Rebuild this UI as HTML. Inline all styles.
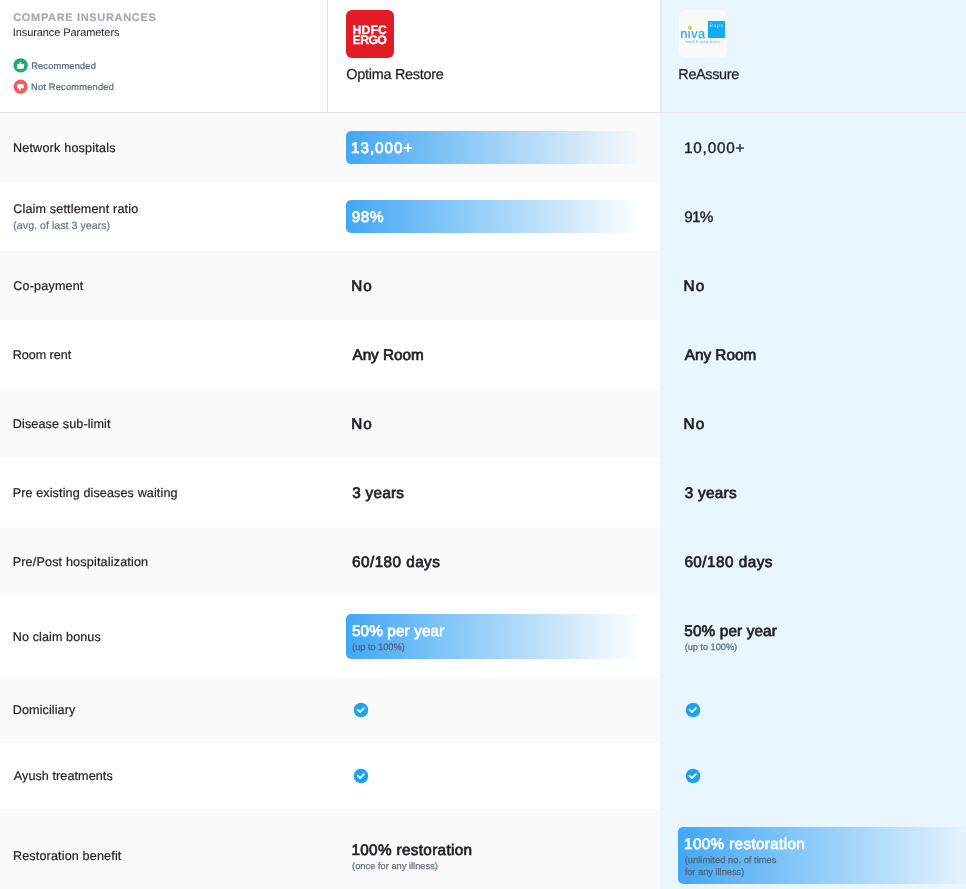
<!DOCTYPE html>
<html><head><meta charset="utf-8">
<title>Compare Insurances</title>
<style>
*{box-sizing:border-box;margin:0;padding:0}
html,body{width:966px;height:889px;overflow:hidden;background:#fff;font-family:"Liberation Sans",sans-serif;color:#1f1f1f;text-rendering:geometricPrecision}
.wrap{position:relative;width:966px;height:889px;overflow:hidden}
.col3{position:absolute;left:660px;top:0;width:306px;height:889px;background:#e9f5ff}
.hl{position:absolute;left:0;top:112px;width:966px;height:1px;background:#e4e4e7}
.v1{position:absolute;left:327px;top:0;width:1px;height:112px;background:#e4e4e7}
.v2{position:absolute;left:660px;top:0;width:1px;height:112px;background:#e1e2e6}
.row{position:absolute;left:0;width:660px;background:#fafafa}
.bar{position:absolute;border-radius:5px;background:linear-gradient(90deg,#41a7f5 0%,rgba(65,167,245,0) 100%)}
.t{position:absolute;white-space:nowrap}
.tx{position:absolute;left:0;top:0;width:966px;height:889px;will-change:transform}
svg{position:absolute;overflow:visible}
</style></head><body><div class="wrap">
<div class="col3"></div>
<div class="row" style="top:113px;height:69px"></div>
<div class="row" style="top:251px;height:69px"></div>
<div class="row" style="top:389px;height:69px"></div>
<div class="row" style="top:527px;height:69px"></div>
<div class="row" style="top:677px;height:66px"></div>
<div class="row" style="top:809px;height:92px"></div>
<div class="hl"></div><div class="v1"></div><div class="v2"></div>
<!-- legend icons -->
<svg style="left:13px;top:58px" width="15" height="15" viewBox="13 58 15 15"><circle cx="20.6" cy="65.4" r="7.15" fill="#1cae6c"/><path d="M17.2 64h1.9l.8-1.6c.6-.5 1.6-.1 1.5.8l-.1.8h2.1c.6 0 .9.4.8 1l-.4 3c-.1.5-.4.8-.9.8h-5.7z" fill="#fff"/></svg>
<svg style="left:13px;top:79px" width="15" height="15" viewBox="13 79 15 15"><circle cx="20.6" cy="86.7" r="7.15" fill="#ee5b64"/><path d="M17.2 88.2h1.4l.6 2.4c.4.5 1.1.2 1.2-.4l.5-2h2.3c.6 0 .9-.4.8-1l-.4-2.3c-.1-.5-.4-.8-.9-.8h-5.5z" fill="#fff"/></svg>
<!-- logos -->
<div style="position:absolute;left:346px;top:10px;width:48px;height:48px;border-radius:6px;background:#e11b25"></div>
<div style="position:absolute;left:679px;top:10px;width:48px;height:48px;border-radius:6px;background:#fafafa"></div>
<div style="position:absolute;left:707.8px;top:20.9px;width:17px;height:16.8px;background:#0eaeee"></div>
<!-- bars -->
<div class="bar" style="left:346px;top:131px;width:296px;height:33px"></div>
<div class="bar" style="left:346px;top:200px;width:296px;height:33px"></div>
<div class="bar" style="left:346px;top:614px;width:296px;height:45px"></div>
<div class="bar" style="left:678px;top:827px;width:296px;height:57px"></div>
<!-- checks -->
<svg style="left:353.05px;top:701.85px" width="16" height="16" viewBox="-8 -8 16 16"><circle cx="0" cy="0" r="7.25" fill="#1da1f2"/><path d="M-3.4-.3l2.4 2.4 3.9-3.9" fill="none" stroke="#fff" stroke-width="1.8" stroke-linecap="round" stroke-linejoin="round"/></svg>
<svg style="left:353.05px;top:767.85px" width="16" height="16" viewBox="-8 -8 16 16"><circle cx="0" cy="0" r="7.25" fill="#1da1f2"/><path d="M-3.4-.3l2.4 2.4 3.9-3.9" fill="none" stroke="#fff" stroke-width="1.8" stroke-linecap="round" stroke-linejoin="round"/></svg>
<svg style="left:685.05px;top:701.85px" width="16" height="16" viewBox="-8 -8 16 16"><circle cx="0" cy="0" r="7.25" fill="#1da1f2"/><path d="M-3.4-.3l2.4 2.4 3.9-3.9" fill="none" stroke="#fff" stroke-width="1.8" stroke-linecap="round" stroke-linejoin="round"/></svg>
<svg style="left:685.05px;top:767.85px" width="16" height="16" viewBox="-8 -8 16 16"><circle cx="0" cy="0" r="7.25" fill="#1da1f2"/><path d="M-3.4-.3l2.4 2.4 3.9-3.9" fill="none" stroke="#fff" stroke-width="1.8" stroke-linecap="round" stroke-linejoin="round"/></svg>
<div class="tx">
<div class="t" style="left:13.27px;top:13.00px;font-size:11px;line-height:11px;color:#a6a9af;letter-spacing:0.663px;font-weight:bold;-webkit-text-stroke:.15px #a6a9af">COMPARE INSURANCES</div>
<div class="t" style="left:12.73px;top:28.00px;font-size:11px;line-height:11px;color:#1f2023;letter-spacing:-0.077px">Insurance Parameters</div>
<div class="t" style="left:31.13px;top:62.00px;font-size:9.3px;line-height:9.3px;color:#50657a;letter-spacing:0.168px;-webkit-text-stroke:.2px #50657a">Recommended</div>
<div class="t" style="left:31.01px;top:83.00px;font-size:9.3px;line-height:9.3px;color:#50657a;letter-spacing:0.193px;-webkit-text-stroke:.2px #50657a">Not Recommended</div>
<div class="t" style="left:352.59px;top:24.00px;font-size:12.3px;line-height:12.3px;color:#fff;letter-spacing:0.088px;font-weight:bold;-webkit-text-stroke:.3px #fff">HDFC</div>
<div class="t" style="left:352.59px;top:34.00px;font-size:12.3px;line-height:12.3px;color:#fff;letter-spacing:-0.640px;font-weight:bold;-webkit-text-stroke:.3px #fff">ERGO</div>
<div class="t" style="left:346.31px;top:68.00px;font-size:14.4px;line-height:14.4px;color:#1f2023;letter-spacing:-0.253px;-webkit-text-stroke:.25px #1f2023">Optima Restore</div>
<div class="t" style="left:678.34px;top:68.00px;font-size:14.4px;line-height:14.4px;color:#1f2023;letter-spacing:-0.332px;-webkit-text-stroke:.25px #1f2023">ReAssure</div>
<div class="t" style="left:680.24px;top:28.00px;font-size:12.9px;line-height:12.9px;color:#22a9ea;letter-spacing:0.441px;-webkit-text-stroke:.15px #22a9ea">niva</div>
<div class="t" style="left:685.46px;top:40.00px;font-size:4px;line-height:4px;color:#45b6ee;letter-spacing:0.330px">health insurance</div>
<div class="t" style="left:709.59px;top:24.00px;font-size:5px;line-height:5px;color:#a5ddf8;letter-spacing:0.632px;font-style:italic">Bupa</div>
<div class="t" style="left:12.92px;top:142.00px;font-size:12.6px;line-height:12.6px;color:#232326;letter-spacing:0.198px;-webkit-text-stroke:.2px #232326">Network hospitals</div>
<div class="t" style="left:13.24px;top:203.00px;font-size:12.6px;line-height:12.6px;color:#232326;letter-spacing:0.149px;-webkit-text-stroke:.2px #232326">Claim settlement ratio</div>
<div class="t" style="left:13.30px;top:221.00px;font-size:10.7px;line-height:10.7px;color:#5e7286;letter-spacing:0.001px;-webkit-text-stroke:.15px #5e7286">(avg. of last 3 years)</div>
<div class="t" style="left:13.34px;top:280.00px;font-size:12.6px;line-height:12.6px;color:#232326;letter-spacing:0.160px;-webkit-text-stroke:.2px #232326">Co-payment</div>
<div class="t" style="left:12.84px;top:349.00px;font-size:12.6px;line-height:12.6px;color:#232326;letter-spacing:-0.062px;-webkit-text-stroke:.2px #232326">Room rent</div>
<div class="t" style="left:12.84px;top:418.00px;font-size:12.6px;line-height:12.6px;color:#232326;letter-spacing:0.114px;-webkit-text-stroke:.2px #232326">Disease sub-limit</div>
<div class="t" style="left:12.64px;top:487.00px;font-size:12.6px;line-height:12.6px;color:#232326;letter-spacing:0.114px;-webkit-text-stroke:.2px #232326">Pre existing diseases waiting</div>
<div class="t" style="left:12.64px;top:556.00px;font-size:12.6px;line-height:12.6px;color:#232326;letter-spacing:0.169px;-webkit-text-stroke:.2px #232326">Pre/Post hospitalization</div>
<div class="t" style="left:12.85px;top:631.00px;font-size:12.6px;line-height:12.6px;color:#232326;letter-spacing:0.082px;-webkit-text-stroke:.2px #232326">No claim bonus</div>
<div class="t" style="left:12.84px;top:704.00px;font-size:12.6px;line-height:12.6px;color:#232326;letter-spacing:0.084px;-webkit-text-stroke:.2px #232326">Domiciliary</div>
<div class="t" style="left:13.79px;top:770.00px;font-size:12.6px;line-height:12.6px;color:#232326;letter-spacing:0.075px;-webkit-text-stroke:.2px #232326">Ayush treatments</div>
<div class="t" style="left:12.91px;top:850.00px;font-size:12.6px;line-height:12.6px;color:#232326;letter-spacing:0.151px;-webkit-text-stroke:.2px #232326">Restoration benefit</div>
<div class="t" style="left:351.12px;top:141.00px;font-size:15.3px;line-height:15.3px;color:#fff;letter-spacing:0.914px;-webkit-text-stroke:.7px #fff">13,000+</div>
<div class="t" style="left:351.69px;top:210.00px;font-size:15.3px;line-height:15.3px;color:#fff;letter-spacing:0.657px;-webkit-text-stroke:.7px #fff">98%</div>
<div class="t" style="left:351.33px;top:279.00px;font-size:15.3px;line-height:15.3px;color:#1f2023;letter-spacing:0.829px;-webkit-text-stroke:.7px #1f2023">No</div>
<div class="t" style="left:352.44px;top:348.00px;font-size:15.3px;line-height:15.3px;color:#1f2023;letter-spacing:-0.013px;-webkit-text-stroke:.7px #1f2023">Any Room</div>
<div class="t" style="left:351.33px;top:417.00px;font-size:15.3px;line-height:15.3px;color:#1f2023;letter-spacing:0.829px;-webkit-text-stroke:.7px #1f2023">No</div>
<div class="t" style="left:352.25px;top:486.00px;font-size:15.3px;line-height:15.3px;color:#1f2023;letter-spacing:0.254px;-webkit-text-stroke:.7px #1f2023">3 years</div>
<div class="t" style="left:352.06px;top:555.00px;font-size:15.3px;line-height:15.3px;color:#1f2023;letter-spacing:0.447px;-webkit-text-stroke:.7px #1f2023">60/180 days</div>
<div class="t" style="left:351.93px;top:624.00px;font-size:15.3px;line-height:15.3px;color:#fff;letter-spacing:0.124px;-webkit-text-stroke:.7px #fff">50% per year</div>
<div class="t" style="left:352.12px;top:643.00px;font-size:9.3px;line-height:9.3px;color:#55697d;letter-spacing:-0.054px;-webkit-text-stroke:.3px #55697d">(up to 100%)</div>
<div class="t" style="left:351.42px;top:843.00px;font-size:15.3px;line-height:15.3px;color:#1f2023;letter-spacing:0.334px;-webkit-text-stroke:.7px #1f2023">100% restoration</div>
<div class="t" style="left:352.10px;top:862.00px;font-size:9.3px;line-height:9.3px;color:#5e7286;letter-spacing:0.002px;-webkit-text-stroke:.25px #5e7286">(once for any illness)</div>
<div class="t" style="left:684.00px;top:141.00px;font-size:15.3px;line-height:15.3px;color:#1f2023;letter-spacing:0.795px;-webkit-text-stroke:.35px #1f2023">10,000+</div>
<div class="t" style="left:684.36px;top:210.00px;font-size:15.3px;line-height:15.3px;color:#1f2023;letter-spacing:-0.872px;-webkit-text-stroke:.35px #1f2023">91%</div>
<div class="t" style="left:683.58px;top:279.00px;font-size:15.3px;line-height:15.3px;color:#1f2023;letter-spacing:1.125px;-webkit-text-stroke:.7px #1f2023">No</div>
<div class="t" style="left:684.83px;top:348.00px;font-size:15.3px;line-height:15.3px;color:#1f2023;letter-spacing:-0.016px;-webkit-text-stroke:.7px #1f2023">Any Room</div>
<div class="t" style="left:683.58px;top:417.00px;font-size:15.3px;line-height:15.3px;color:#1f2023;letter-spacing:1.125px;-webkit-text-stroke:.7px #1f2023">No</div>
<div class="t" style="left:684.66px;top:486.00px;font-size:15.3px;line-height:15.3px;color:#1f2023;letter-spacing:0.292px;-webkit-text-stroke:.7px #1f2023">3 years</div>
<div class="t" style="left:684.40px;top:555.00px;font-size:15.3px;line-height:15.3px;color:#1f2023;letter-spacing:0.469px;-webkit-text-stroke:.7px #1f2023">60/180 days</div>
<div class="t" style="left:684.33px;top:624.00px;font-size:15.3px;line-height:15.3px;color:#1f2023;letter-spacing:0.135px;-webkit-text-stroke:.7px #1f2023">50% per year</div>
<div class="t" style="left:684.66px;top:643.00px;font-size:9.3px;line-height:9.3px;color:#5e7286;letter-spacing:-0.061px;-webkit-text-stroke:.25px #5e7286">(up to 100%)</div>
<div class="t" style="left:684.07px;top:837.00px;font-size:15.3px;line-height:15.3px;color:#fff;letter-spacing:0.339px;-webkit-text-stroke:.7px #fff">100% restoration</div>
<div class="t" style="left:684.67px;top:856.00px;font-size:9.3px;line-height:9.3px;color:#55697d;letter-spacing:0.039px;-webkit-text-stroke:.3px #55697d">(unlimited no. of times</div>
<div class="t" style="left:684.64px;top:868.00px;font-size:9.3px;line-height:9.3px;color:#55697d;letter-spacing:-0.015px;-webkit-text-stroke:.3px #55697d">for any illness)</div>
</div>
<svg style="left:686px;top:24px;z-index:3" width="8" height="8" viewBox="0 0 8 8"><rect x="1.2" y="4.2" width="4.8" height="2.5" fill="#fafafa"/><circle cx="3.9" cy="3.75" r="1.9" fill="#f6b536"/><circle cx="3.3" cy="3.3" r=".55" fill="#fafafa"/><circle cx="5" cy="5.1" r=".7" fill="#f6b536"/></svg>

</div></body></html>
